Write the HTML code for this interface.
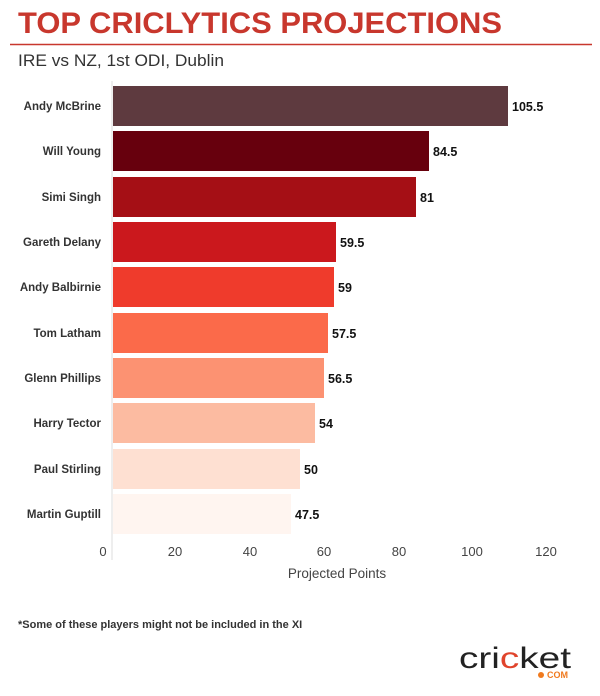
<!DOCTYPE html>
<html><head><meta charset="utf-8"><style>
body{margin:0;width:600px;height:691px;background:#fff;font-family:"Liberation Sans",sans-serif;overflow:hidden}
</style></head><body>
<svg width="600" height="691" xmlns="http://www.w3.org/2000/svg" font-family="Liberation Sans, sans-serif">
<text x="18" y="33" font-size="30" font-weight="bold" fill="#c8372d" textLength="484" lengthAdjust="spacingAndGlyphs">TOP CRICLYTICS PROJECTIONS</text>
<line x1="10" y1="44.5" x2="592" y2="44.5" stroke="#c8372d" stroke-width="1.5"/>
<text x="18" y="66" font-size="17" fill="#333" textLength="206" lengthAdjust="spacingAndGlyphs">IRE vs NZ, 1st ODI, Dublin</text>
<line x1="112" y1="81" x2="112" y2="560" stroke="#ddd" stroke-width="1"/>
<g font-size="11.5" fill="#333" text-anchor="end" font-weight="bold">
<text x="101" y="110">Andy McBrine</text>
<text x="101" y="155">Will Young</text>
<text x="101" y="201">Simi Singh</text>
<text x="101" y="246">Gareth Delany</text>
<text x="101" y="291">Andy Balbirnie</text>
<text x="101" y="337">Tom Latham</text>
<text x="101" y="382">Glenn Phillips</text>
<text x="101" y="427">Harry Tector</text>
<text x="101" y="473">Paul Stirling</text>
<text x="101" y="518">Martin Guptill</text>
</g>
<g>
<rect x="113" y="86" width="395" height="40" fill="#5e3a3f"/>
<rect x="113" y="131" width="316" height="40" fill="#67000d"/>
<rect x="113" y="177" width="303" height="40" fill="#a50f15"/>
<rect x="113" y="222" width="223" height="40" fill="#cb181d"/>
<rect x="113" y="267" width="221" height="40" fill="#ef3b2c"/>
<rect x="113" y="313" width="215" height="40" fill="#fb6a4a"/>
<rect x="113" y="358" width="211" height="40" fill="#fc9272"/>
<rect x="113" y="403" width="202" height="40" fill="#fcbba1"/>
<rect x="113" y="449" width="187" height="40" fill="#fee0d2"/>
<rect x="113" y="494" width="178" height="40" fill="#fff5f0"/>
</g>
<g font-size="12.5" font-weight="bold" fill="#111">
<text x="512" y="111">105.5</text>
<text x="433" y="156">84.5</text>
<text x="420" y="202">81</text>
<text x="340" y="247">59.5</text>
<text x="338" y="292">59</text>
<text x="332" y="338">57.5</text>
<text x="328" y="383">56.5</text>
<text x="319" y="428">54</text>
<text x="304" y="474">50</text>
<text x="295" y="519">47.5</text>
</g>
<g font-size="13" fill="#444" text-anchor="middle">
<text x="103" y="556">0</text>
<text x="175" y="556">20</text>
<text x="250" y="556">40</text>
<text x="324" y="556">60</text>
<text x="399" y="556">80</text>
<text x="472" y="556">100</text>
<text x="546" y="556">120</text>
<text x="337" y="578" font-size="13.5">Projected Points</text>
</g>
<text x="18" y="628" font-size="11" font-weight="bold" fill="#333">*Some of these players might not be included in the XI</text>
<text x="459" y="668" font-size="30" fill="#222" textLength="112" lengthAdjust="spacingAndGlyphs">cri<tspan fill="#e0442c">c</tspan>ket</text>
<circle cx="541" cy="675" r="3" fill="#f07a1e"/>
<text x="547" y="678" font-size="9" font-weight="bold" fill="#f07a1e">COM</text>
</svg>
</body></html>
